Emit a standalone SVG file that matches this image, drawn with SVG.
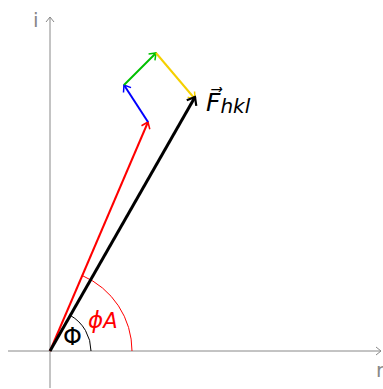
<svg xmlns="http://www.w3.org/2000/svg" width="383" height="389" viewBox="0 0 383 389">
<style>
.ax{stroke:#888;stroke-width:1;fill:none}
.v{fill:none;stroke-width:2}
text{font-family:"DejaVu Sans",sans-serif}
</style>
<defs>
<marker id="ha" markerWidth="10" markerHeight="10" refX="8" refY="5" orient="auto" markerUnits="userSpaceOnUse"><path d="M3,1 L8,5 L3,9" fill="none" stroke="#888" stroke-width="1"/></marker>
<marker id="hr" markerWidth="12" markerHeight="12" refX="9" refY="6" orient="auto" markerUnits="userSpaceOnUse"><path d="M3,1.5 L9,6 L3,10.5" fill="none" stroke="red" stroke-width="1.5"/></marker>
<marker id="hb" markerWidth="12" markerHeight="12" refX="9" refY="6" orient="auto" markerUnits="userSpaceOnUse"><path d="M3,1.5 L9,6 L3,10.5" fill="none" stroke="blue" stroke-width="1.5"/></marker>
<marker id="hg" markerWidth="12" markerHeight="12" refX="9" refY="6" orient="auto" markerUnits="userSpaceOnUse"><path d="M3,1.5 L9,6 L3,10.5" fill="none" stroke="#00c000" stroke-width="1.5"/></marker>
<marker id="hy" markerWidth="12" markerHeight="12" refX="9" refY="6" orient="auto" markerUnits="userSpaceOnUse"><path d="M3,1.5 L9,6 L3,10.5" fill="none" stroke="#f5d000" stroke-width="1.5"/></marker>
<marker id="hk" markerWidth="14" markerHeight="14" refX="10" refY="7" orient="auto" markerUnits="userSpaceOnUse"><path d="M3,1.5 L10,7 L3,12.5" fill="none" stroke="#000" stroke-width="2.2"/></marker>
</defs>
<g id="axes">
<line class="ax" x1="8" y1="351" x2="381" y2="351" marker-end="url(#ha)"/>
<line class="ax" x1="50" y1="388" x2="50" y2="17" marker-end="url(#ha)"/>
<text x="33" y="27" font-size="20" fill="#888">i</text>
<text x="376" y="377" font-size="20" fill="#888">r</text>
</g>
<g id="arcs">
<path d="M91,351 A41,41 0 0 0 70.3,315.4" fill="none" stroke="#000" stroke-width="1"/>
<path d="M132,351 A82,82 0 0 0 82.3,275.6" fill="none" stroke="red" stroke-width="1"/>
<text x="63" y="345" font-size="24" fill="#000">Φ</text>
<text x="88" y="328" font-size="23" fill="red" font-style="italic">ϕ<tspan font-size="21">A</tspan></text>
</g>
<g id="connectors">
<line class="v" x1="50" y1="351" x2="148" y2="122" stroke="red" marker-end="url(#hr)"/>
<line class="v" x1="148" y1="122" x2="124" y2="85" stroke="blue" marker-end="url(#hb)"/>
<line class="v" x1="124" y1="85" x2="156" y2="53" stroke="#00c000" marker-end="url(#hg)"/>
<line class="v" x1="156" y1="53" x2="195" y2="99" stroke="#f5d000" marker-end="url(#hy)"/>
<line x1="50" y1="351" x2="195" y2="97" stroke="#000" stroke-width="3" marker-end="url(#hk)"/>
</g>
<g id="label-F">
<text x="206" y="111" font-size="25" font-style="italic" fill="#000">F⃗<tspan font-size="20" dy="2">hkl</tspan></text>
</g>
</svg>
